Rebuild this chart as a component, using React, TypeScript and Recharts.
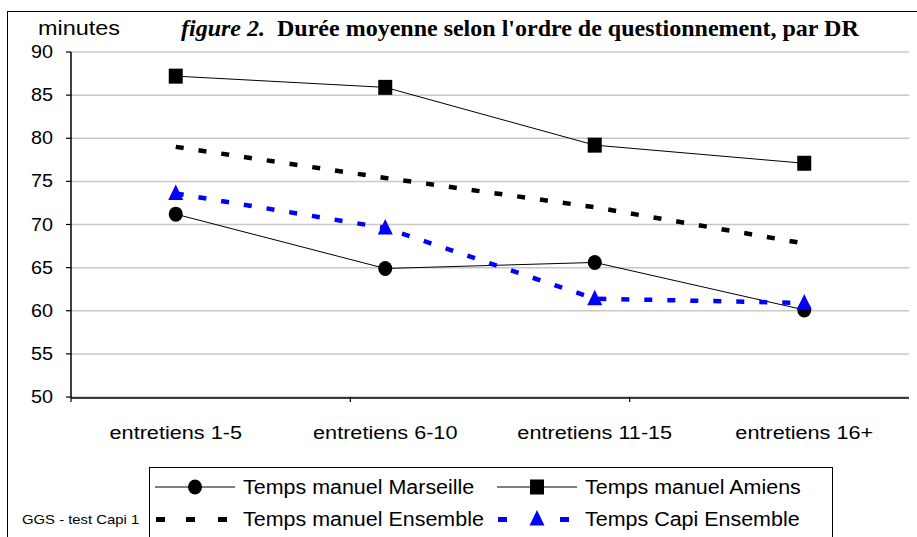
import React from "react";
import {
  LineChart,
  Line,
  XAxis,
  YAxis,
  CartesianGrid,
} from "recharts";

// categories and series values (minutes)
const categories = [
  "entretiens 1-5",
  "entretiens 6-10",
  "entretiens 11-15",
  "entretiens 16+",
];
const marseille = [71.2, 64.9, 65.6, 60.1];
const amiens = [87.2, 85.9, 79.2, 77.1];
const manuelEnsemble = [79.0, 75.4, 72.0, 67.8];
const capiEnsemble = [73.6, 69.6, 61.4, 60.9];
const yTicks = [50, 55, 60, 65, 70, 75, 80, 85, 90];

const chartData = categories.map((c, i) => ({
  name: c,
  marseille: marseille[i],
  amiens: amiens[i],
  manuel: manuelEnsemble[i],
  capi: capiEnsemble[i],
}));

// category boundaries for the tick marks on the x axis
const boundaries = categories.map((_, i) => i).concat(categories.length);

const FONT = "'Liberation Sans', Arial, sans-serif";

type Shape = "circle" | "square" | "triangle" | "none";

const Marker = ({ cx, cy, shape, color }: any) => {
  if (cx == null || cy == null) return null;
  if (shape === "circle")
    return <ellipse cx={cx} cy={cy} rx={7} ry={7.5} fill={color} />;
  if (shape === "square")
    return <rect x={cx - 7} y={cy - 7.5} width={14} height={15} fill={color} />;
  if (shape === "triangle")
    return (
      <path
        d={`M${cx},${cy - 9} L${cx + 7.5},${cy + 6.5} L${cx - 7.5},${cy + 6.5} Z`}
        fill={color}
      />
    );
  return null;
};

const seriesDefs: {
  key: string;
  name: string;
  color: string;
  width: number;
  dash?: string;
  shape: Shape;
}[] = [
  { key: "marseille", name: "Temps manuel Marseille", color: "#000000", width: 1, shape: "circle" },
  { key: "amiens", name: "Temps manuel Amiens", color: "#000000", width: 1, shape: "square" },
  { key: "manuel", name: "Temps manuel Ensemble", color: "#000000", width: 4.5, dash: "8 15", shape: "none" },
  { key: "capi", name: "Temps Capi Ensemble", color: "#0000ff", width: 4.5, dash: "8 15", shape: "triangle" },
];

// wide-ish text, like the original Excel rendering
const Stretch = ({ children, size, sx = 1.1, style }: any) => (
  <span
    style={{
      display: "inline-block",
      fontFamily: FONT,
      fontSize: size,
      transform: `scaleX(${sx})`,
      transformOrigin: "left center",
      whiteSpace: "nowrap",
      ...style,
    }}
  >
    {children}
  </span>
);

const CatTick = ({ x, y, payload }: any) => (
  <g transform={`translate(${x},${y})`}>
    <text
      transform="scale(1.14,1)"
      textAnchor="middle"
      dy={33}
      fill="#000"
      fontSize={19}
      fontFamily={FONT}
    >
      {payload.value}
    </text>
  </g>
);

const YTick = ({ x, y, payload }: any) => (
  <g transform={`translate(${x},${y})`}>
    <text
      transform="scale(1.1,1)"
      textAnchor="end"
      dy={6}
      fill="#000"
      fontSize={18}
      fontFamily={FONT}
    >
      {payload.value}
    </text>
  </g>
);

const LegendBox = () => (
  <div
    style={{
      position: "absolute",
      left: 149,
      top: 467,
      width: 684,
      height: 72,
      border: "1px solid #000",
      boxSizing: "border-box",
      color: "#000",
    }}
  >
    {seriesDefs.map((s, i) => {
      const col = i % 2;
      const row = Math.floor(i / 2);
      return (
        <div
          key={s.key}
          style={{
            position: "absolute",
            left: col === 0 ? 5 : 347,
            top: row === 0 ? 7 : 39,
            display: "flex",
            alignItems: "center",
            height: 24,
          }}
        >
          <svg width={80} height={24}>
            {s.dash ? (
              <>
                <rect x={1} y={10} width={9} height={5} fill={s.color} />
                {s.shape === "none" && (
                  <rect x={31} y={10} width={9} height={5} fill={s.color} />
                )}
                <rect x={63} y={10} width={9} height={5} fill={s.color} />
              </>
            ) : (
              <line x1={0} y1={12} x2={80} y2={12} stroke={s.color} strokeWidth={1} />
            )}
            <Marker cx={40} cy={12} shape={s.shape} color={s.color} />
          </svg>
          <Stretch size={19.5} style={{ marginLeft: 8 }}>
            {s.name}
          </Stretch>
        </div>
      );
    })}
  </div>
);

export default function App() {
  return (
    <div
      style={{
        position: "absolute",
        left: 0,
        top: 0,
        width: 917,
        height: 537,
        background: "#fff",
        overflow: "hidden",
      }}
    >
      {/* outer frame */}
      <div
        style={{
          position: "absolute",
          left: 7,
          top: 11,
          width: 930,
          height: 540,
          borderLeft: "1.5px solid #000",
          borderTop: "1.5px solid #000",
        }}
      />
      <div style={{ position: "absolute", left: 38, top: 17 }}>
        <Stretch size={19.5} sx={1.2}>
          minutes
        </Stretch>
      </div>
      <div
        style={{
          position: "absolute",
          left: 181,
          top: 15,
          fontFamily: "'Liberation Serif', 'Times New Roman', serif",
          fontSize: 24,
          fontWeight: "bold",
          whiteSpace: "nowrap",
        }}
      >
        <i>figure 2.</i>&nbsp; Durée moyenne selon l'ordre de questionnement, par DR
      </div>
      <div style={{ position: "absolute", left: 22, top: 510 }}>
        <Stretch size={13.5}>GGS - test Capi 1</Stretch>
      </div>
      <LineChart
        width={917}
        height={537}
        data={chartData}
        margin={{ top: 52, right: 8, left: 7, bottom: 100 }}
        style={{ position: "absolute", left: 0, top: 0 }}
      >
        <CartesianGrid xAxisId="cat" vertical={false} stroke="#c8c8c8" strokeWidth={1.5} />
        <XAxis
          xAxisId="bounds"
          type="number"
          domain={[0, categories.length]}
          ticks={boundaries}
          allowDataOverflow
          tick={() => <g />}
          tickSize={5}
          axisLine={false}
          tickLine={{ stroke: "#000", strokeWidth: 1.2 }}
          height={1}
        />
        <XAxis
          xAxisId="cat"
          dataKey="name"
          scale="band"
          interval={0}
          tickLine={false}
          axisLine={{ stroke: "#000", strokeWidth: 1.5 }}
          tick={<CatTick />}
          height={39}
        />
        <YAxis
          domain={[50, 90]}
          ticks={yTicks}
          interval={0}
          width={64}
          tickSize={5}
          tickMargin={13}
          tickLine={{ stroke: "#000", strokeWidth: 1.2 }}
          axisLine={{ stroke: "#000", strokeWidth: 1.5 }}
          tick={<YTick />}
        />
        {seriesDefs.map((s) => (
          <Line
            key={s.key}
            xAxisId="cat"
            dataKey={s.key}
            name={s.name}
            type="linear"
            stroke={s.color}
            strokeWidth={s.width}
            strokeDasharray={s.dash}
            isAnimationActive={false}
            dot={(p: any) => (
              <Marker key={`${s.key}-${p.index}`} cx={p.cx} cy={p.cy} shape={s.shape} color={s.color} />
            )}
            activeDot={false}
          />
        ))}
      </LineChart>
      <LegendBox />
    </div>
  );
}
